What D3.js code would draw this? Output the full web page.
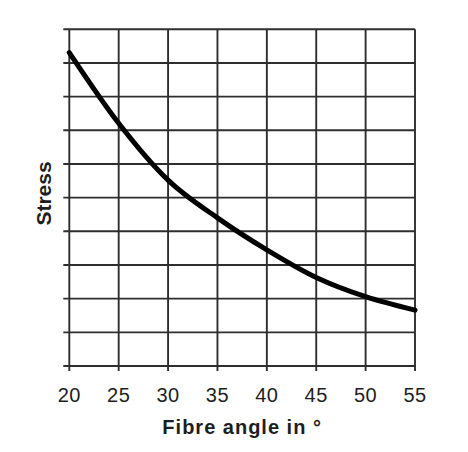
<!DOCTYPE html>
<html>
<head>
<meta charset="utf-8">
<script src="https://cdn.jsdelivr.net/npm/d3@7"></script>
<style>
  body { margin: 0; background: #fff; }
  svg { display: block; }
  text { font-family: "Liberation Sans", Arial, sans-serif; fill: #1e1e1e; }
</style>
</head>
<body>
<div id="chart"></div>
<script>
// Fibre angle (deg) vs stress (stress in grid units)
const angles = [20, 25, 30, 35, 40, 45, 50, 55];
const stress = [9.31, 7.21, 5.52, 4.40, 3.45, 2.63, 2.06, 1.66];
const xTicks = [20, 25, 30, 35, 40, 45, 50, 55];
const yGrid = [0, 1, 2, 3, 4, 5, 6, 7, 8, 9, 10];

const width = 468;
const height = 452;
const margin = { top: 29.3, right: 53, bottom: 86, left: 69.3 };

const svg = d3.select("#chart")
  .append("svg")
  .attr("width", width)
  .attr("height", height);

const x = d3.scaleLinear()
  .domain([20, 55])
  .range([margin.left, width - margin.right]);

const y = d3.scaleLinear()
  .domain([0, 10])
  .range([height - margin.bottom, margin.top]);

// grid: horizontal lines stick out a little on the left, vertical ones below
const grid = svg.append("g")
  .attr("stroke", "#2e2e2e")
  .attr("stroke-width", 1.9);

grid.selectAll(".h")
  .data(yGrid)
  .enter()
  .append("line")
  .attr("class", "h")
  .attr("x1", x(20) - 6)
  .attr("x2", x(55))
  .attr("y1", d => y(d))
  .attr("y2", d => y(d));

grid.selectAll(".v")
  .data(xTicks)
  .enter()
  .append("line")
  .attr("class", "v")
  .attr("x1", d => x(d))
  .attr("x2", d => x(d))
  .attr("y1", y(10))
  .attr("y2", y(0) + 5);

// tick labels
svg.selectAll(".tick-label")
  .data(xTicks)
  .enter()
  .append("text")
  .attr("class", "tick-label")
  .attr("x", d => x(d))
  .attr("y", 402)
  .attr("text-anchor", "middle")
  .style("font-size", "20px")
  .style("letter-spacing", "0.5px")
  .text(d => d);

// the curve
const line = d3.line()
  .x((d, i) => x(angles[i]))
  .y(d => y(d))
  .curve(d3.curveMonotoneX);

svg.append("path")
  .datum(stress)
  .attr("d", line)
  .attr("fill", "none")
  .attr("stroke", "#000")
  .attr("stroke-width", 5)
  .attr("stroke-linecap", "round");

// axis titles
svg.append("text")
  .attr("x", (x(20) + x(55)) / 2)
  .attr("y", 434)
  .attr("text-anchor", "middle")
  .style("font-size", "20px")
  .style("font-weight", "bold")
  .style("letter-spacing", "1px")
  .text("Fibre angle in °");

svg.append("text")
  .attr("transform", "translate(51," + 193.5 + ") rotate(-90)")
  .attr("text-anchor", "middle")
  .style("font-size", "21px")
  .style("font-weight", "bold")
  .text("Stress");
</script>
</body>
</html>
